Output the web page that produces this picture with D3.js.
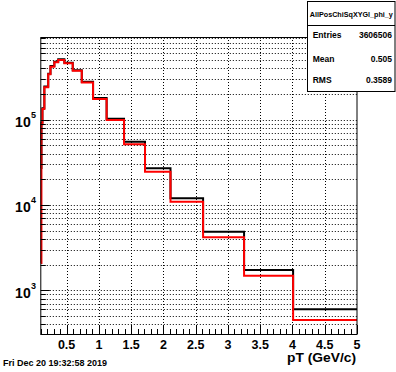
<!DOCTYPE html>
<html><head><meta charset="utf-8">
<script src="https://cdn.jsdelivr.net/npm/d3@7"></script>
<style>body{margin:0;background:#fff}svg{display:block}text{font-family:"Liberation Sans",Arial,Helvetica,sans-serif;font-weight:bold}</style>
</head><body><svg id="c" width="396" height="372"></svg>
<script>
// Bin edges (pT, GeV/c)
const binEdges = [0.1, 0.11, 0.125, 0.155, 0.215, 0.25, 0.31, 0.37, 0.465, 0.595, 0.735, 0.91, 1.12, 1.39, 1.715, 2.11, 2.615, 3.25, 4.01, 5.0];
// Black histogram contents
const blackCounts = [27200, 92000, 136000, 245000, 345000, 425000, 478000, 510000, 465000, 380000, 278000, 180000, 102800, 55200, 26900, 11980, 4860, 1730, 598];
// Red histogram contents
const redCounts = [2090, 88300, 133000, 240000, 340000, 417000, 471000, 501000, 458000, 375000, 272000, 175000, 99300, 51500, 24600, 10940, 4180, 1483, 449];
const xTickLabels = ["0.5","1","1.5","2","2.5","3","3.5","4","4.5","5"];
const xTickValues = [0.5,1,1.5,2,2.5,3,3.5,4,4.5,5];
const yDecades = [3,4,5];
const statsTitle = "AllPosChiSqXYGl_phi_y";
const statsNames = ["Entries","Mean","RMS"];
const statsValues = ["3606506","0.505","0.3589"];
const xTitle = "pT (GeV/c)";
const dateText = "Fri Dec 20 19:32:58 2019";

const L=40.8, R=357, T=37, B=334;
const svg=d3.select("#c");
const x=d3.scaleLinear().domain([0.1,5]).range([L,R]);
const y=d3.scaleLog().domain([Math.pow(10,2.488),Math.pow(10,5.969)]).range([B,T]);

const g=svg.append("g");
// grids
const yMinor=[];
for(let d=2; d<=5; d++){ for(let m=1;m<=9;m++){ const v=m*Math.pow(10,d); if(v>=y.domain()[0] && v<=y.domain()[1]) yMinor.push(v);} }
g.selectAll(".hg").data(yMinor).enter().append("line")
 .attr("x1",L).attr("x2",R).attr("y1",d=>Math.round(y(d))+0.5).attr("y2",d=>Math.round(y(d))+0.5)
 .attr("stroke","#000").attr("stroke-width",1).attr("stroke-dasharray","1,2");
g.selectAll(".vg").data(xTickValues.filter(v=>v<5)).enter().append("line")
 .attr("y1",T).attr("y2",B).attr("x1",d=>Math.round(x(d))+0.5).attr("x2",d=>Math.round(x(d))+0.5)
 .attr("stroke","#000").attr("stroke-width",1).attr("stroke-dasharray","1,2");

// histograms
function histPath(counts){
  let p="M"+x(binEdges[0])+","+y(counts[0]);
  for(let i=0;i<counts.length;i++){
    if(i>0) p+="L"+x(binEdges[i])+","+y(counts[i]);
    p+="L"+x(binEdges[i+1])+","+y(counts[i]);
  }
  return p;
}
g.append("path").attr("d",histPath(blackCounts)).attr("fill","none").attr("stroke","#000").attr("stroke-width",2);
g.append("path").attr("d",histPath(redCounts)).attr("fill","none").attr("stroke","#f00").attr("stroke-width",2);

// frame
g.append("rect").attr("x",L).attr("y",T+0.5).attr("width",R-L).attr("height",B-T).attr("fill","none").attr("stroke","#000").attr("stroke-width",1);

// x ticks
const xMinor=d3.range(1,51).map(i=>i/10).filter(v=>v>=0.1&&v<=5);
g.selectAll(".xt").data(xMinor).enter().append("line")
 .attr("x1",d=>Math.round(x(d))+0.5).attr("x2",d=>Math.round(x(d))+0.5)
 .attr("y1",B).attr("y2",d=>B-(Math.abs(d*2-Math.round(d*2))<1e-6?9:5))
 .attr("stroke","#000");
g.selectAll(".xl").data(xTickValues).enter().append("text")
 .attr("x",d=>x(d)).attr("y",348.5).attr("text-anchor","middle").attr("font-size",12.5)
 .text((d,i)=>xTickLabels[i]);
g.append("text").attr("x",356).attr("y",362).attr("text-anchor","end").attr("font-size",12.5)
 .attr("textLength",69).attr("lengthAdjust","spacingAndGlyphs").text(xTitle);

// y ticks
g.selectAll(".yt").data(yMinor).enter().append("line")
 .attr("y1",d=>Math.round(y(d))+0.5).attr("y2",d=>Math.round(y(d))+0.5)
 .attr("x1",L).attr("x2",d=>L+(Math.abs(Math.log10(d)-Math.round(Math.log10(d)))<1e-6?9:5))
 .attr("stroke","#000");
yDecades.forEach(d=>{
  const yy=y(Math.pow(10,d));
  g.append("text").attr("x",30.7).attr("y",yy+7.5).attr("text-anchor","end").attr("font-size",14).text("10");
  g.append("text").attr("x",31).attr("y",yy-1.5).attr("font-size",9).text(String(d));
});

// stats box
const sb=svg.append("g");
sb.append("rect").attr("x",307.5).attr("y",1.5).attr("width",87.5).attr("height",90).attr("fill","#fff").attr("stroke","#000");
sb.append("line").attr("x1",307.5).attr("x2",395).attr("y1",25.5).attr("y2",25.5).attr("stroke","#000");
sb.append("text").attr("x",351.3).attr("y",17).attr("text-anchor","middle").attr("font-size",7.5)
 .attr("textLength",83).attr("lengthAdjust","spacingAndGlyphs").text(statsTitle);
const rowsY=[37.7,61.7,83.3];
statsNames.forEach((n,i)=>{
  sb.append("text").attr("x",312.7).attr("y",rowsY[i]).attr("font-size",8.5).text(n);
  sb.append("text").attr("x",392).attr("y",rowsY[i]).attr("text-anchor","end").attr("font-size",8.5).text(statsValues[i]);
});

svg.append("text").attr("x",3).attr("y",365.5).attr("font-size",8.5)
 .attr("textLength",104).attr("lengthAdjust","spacingAndGlyphs").text(dateText);
</script></body></html>
